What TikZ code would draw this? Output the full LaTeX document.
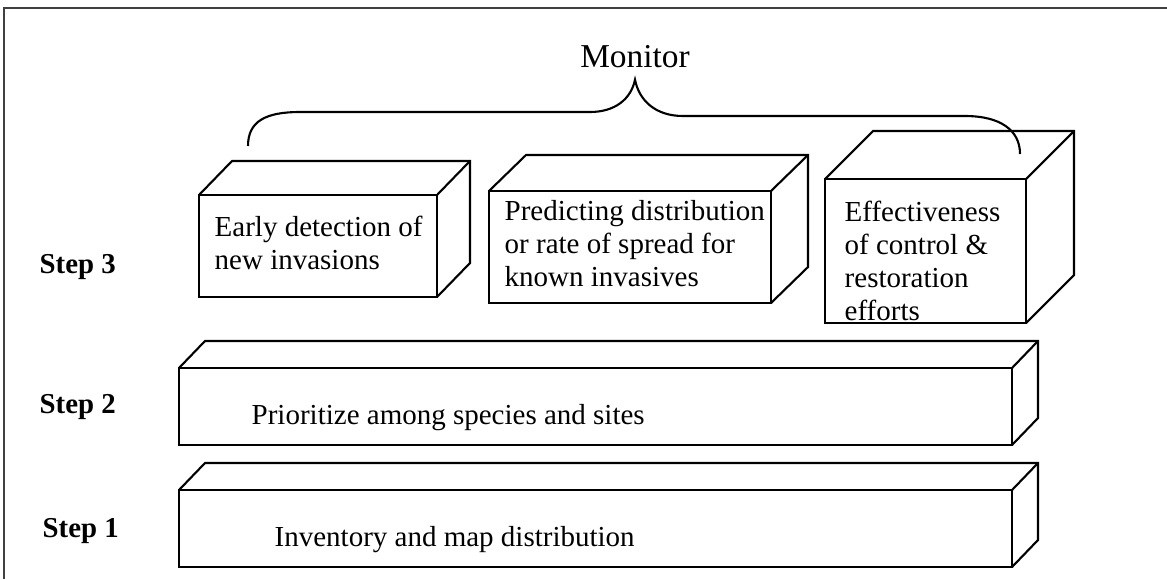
\documentclass[tikz,border=0pt]{standalone}
\usepackage{fontspec}
\setmainfont{Liberation Serif}
\usetikzlibrary{calc}

\begin{document}
\begin{tikzpicture}[
  face/.style={draw,line width=.6pt,inner sep=0,outer sep=0},
  depth/.style={line width=.6pt},
  boxtext/.style={inner sep=0,align=left,font=\fontsize{8.25}{9.4}\selectfont},
  steplabel/.style={inner sep=0,font=\fontsize{8.2}{10}\selectfont\bfseries}]
\useasboundingbox (0,0) rectangle (11.67,5.79);
% frame: only the top and left edges
\draw[line width=.6pt,black!75] (11.67,5.71) -- (.04,5.71) -- (.04,0);

% step 3: three monitoring boxes
\node[face,minimum width=2.38cm,minimum height=1.02cm] (early) at (3.18,3.33) {};
\node[face,minimum width=2.82cm,minimum height=1.12cm] (predict) at (6.30,3.32) {};
\node[face,minimum width=2.01cm,minimum height=1.44cm] (effect) at (9.255,3.28) {};
\draw[depth] (early.north west) -- ++(.33,.34) -- ($(early.north east)+(.33,.34)$) -- ($(early.south east)+(.33,.34)$) -- (early.south east);
\draw[depth] (early.north east) -- ++(.33,.34);
\draw[depth] (predict.north west) -- ++(.37,.36) -- ($(predict.north east)+(.37,.36)$) -- ($(predict.south east)+(.37,.36)$) -- (predict.south east);
\draw[depth] (predict.north east) -- ++(.37,.36);
\draw[depth] (effect.north west) -- ++(.48,.48) -- ($(effect.north east)+(.48,.48)$) -- ($(effect.south east)+(.48,.48)$) -- (effect.south east);
\draw[depth] (effect.north east) -- ++(.48,.48);
\node[boxtext,anchor=north west] (earlytxt) at (2.14,3.64) {Early detection of\\new invasions};
\node[boxtext,anchor=north west] (predicttxt) at (5.04,3.79) {Predicting distribution\\or rate of spread for\\known invasives};
\node[boxtext,anchor=north west] (effecttxt) at (8.44,3.79) {Effectiveness\\of control \&\\restoration\\efforts};

% steps 2 and 1: long bars
\node[face,minimum width=8.33cm,minimum height=.77cm] (prior) at (5.955,1.725) {};
\node[face,minimum width=8.33cm,minimum height=.77cm] (inven) at (5.955,.505) {};
\draw[depth] (prior.north west) -- ++(.26,.27) -- ($(prior.north east)+(.26,.27)$) -- ($(prior.south east)+(.26,.27)$) -- (prior.south east);
\draw[depth] (prior.north east) -- ++(.26,.27);
\draw[depth] (inven.north west) -- ++(.26,.27) -- ($(inven.north east)+(.26,.27)$) -- ($(inven.south east)+(.26,.27)$) -- (inven.south east);
\draw[depth] (inven.north east) -- ++(.26,.27);
\node[boxtext,anchor=base west] (priortxt) at (2.51,1.55) {Prioritize among species and sites};
\node[boxtext,anchor=base west] (inventxt) at (2.74,.33) {Inventory and map distribution};

% step labels
\node[steplabel,anchor=base west] (step3) at (.39,3.06) {Step 3};
\node[steplabel,anchor=base west] (step2) at (.39,1.66) {Step 2};
\node[steplabel,anchor=base west] (step1) at (.42,.42) {Step 1};

% brace under the heading
\node[anchor=base,font=\fontsize{9.5}{11}\selectfont] (monitor) at (6.35,5.12) {Monitor};
\coordinate (braceL) at (2.48,4.33);
\coordinate (braceR) at (10.20,4.25);
\draw[line width=.6pt] (braceL) .. controls (2.48,4.58) and (2.66,4.67) .. (3.00,4.67) -- (5.90,4.67)
  .. controls (6.15,4.67) and (6.31,4.80) .. (monitor.south)
  .. controls (6.39,4.79) and (6.55,4.63) .. (6.83,4.63) -- (9.65,4.63)
  .. controls (10.00,4.63) and (10.20,4.49) .. (braceR);
\end{tikzpicture}
\end{document}
